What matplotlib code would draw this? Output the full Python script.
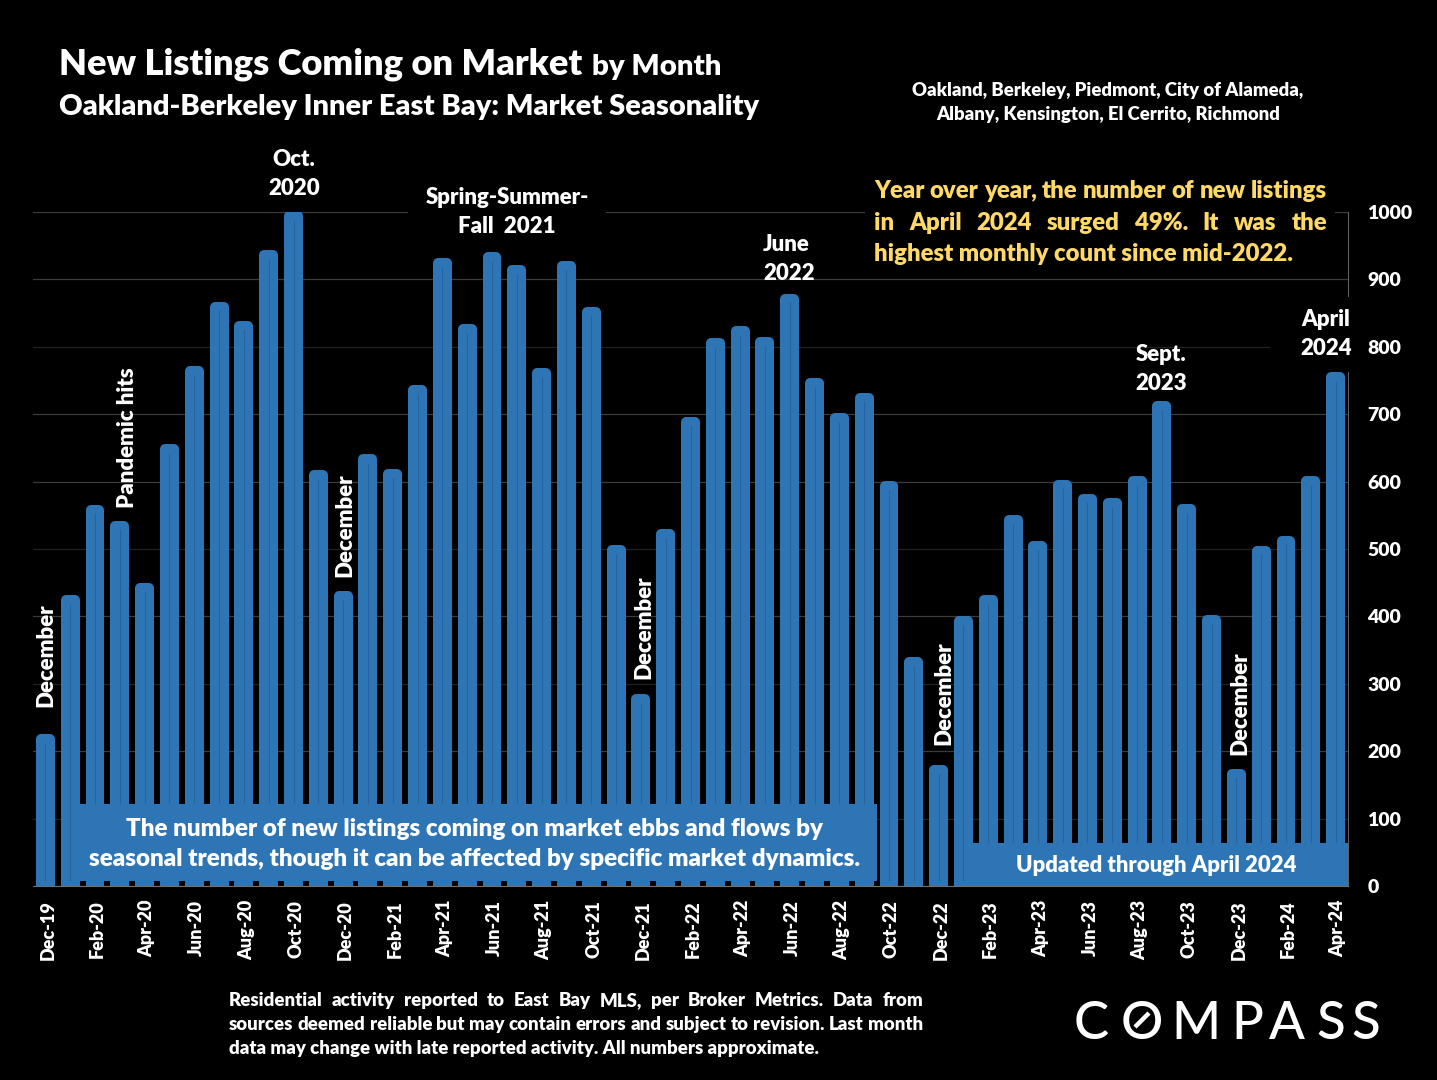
import matplotlib
matplotlib.use('Agg')
import matplotlib.pyplot as plt
from matplotlib.lines import Line2D
from matplotlib.patches import Rectangle
from matplotlib.transforms import ScaledTranslation

W, H = 1437, 1080

months = ['Dec-19', 'Jan-20', 'Feb-20', 'Mar-20', 'Apr-20', 'May-20', 'Jun-20', 'Jul-20', 'Aug-20', 'Sep-20',
          'Oct-20', 'Nov-20', 'Dec-20', 'Jan-21', 'Feb-21', 'Mar-21', 'Apr-21', 'May-21', 'Jun-21', 'Jul-21',
          'Aug-21', 'Sep-21', 'Oct-21', 'Nov-21', 'Dec-21', 'Jan-22', 'Feb-22', 'Mar-22', 'Apr-22', 'May-22',
          'Jun-22', 'Jul-22', 'Aug-22', 'Sep-22', 'Oct-22', 'Nov-22', 'Dec-22', 'Jan-23', 'Feb-23', 'Mar-23',
          'Apr-23', 'May-23', 'Jun-23', 'Jul-23', 'Aug-23', 'Sep-23', 'Oct-23', 'Nov-23', 'Dec-23', 'Jan-24',
          'Feb-24', 'Mar-24', 'Apr-24']
listings = [224, 430, 565, 541, 449, 655, 770, 866, 837, 943,
            1000, 616, 436, 640, 617, 743, 931, 833, 939, 920,
            767, 926, 858, 505, 284, 529, 695, 812, 830, 813,
            878, 753, 701, 731, 600, 339, 178, 399, 431, 549,
            511, 602, 581, 575, 607, 718, 566, 401, 172, 504,
            519, 607, 761]
y_ticks = [0, 100, 200, 300, 400, 500, 600, 700, 800, 900, 1000]
faint_grid = [100, 300, 500, 800]

BLUE = '#2E75B6'
WEIGHT = 'heavy'
plt.rcParams['font.family'] = ['Lato', 'DejaVu Sans']
plt.rcParams['font.weight'] = WEIGHT

fig = plt.figure(figsize=(W / 100, H / 100), dpi=100, facecolor='black')
ax = fig.add_axes([33 / W, 1 - 886 / H, 1315 / W, 674 / H], facecolor='black')
px = fig.transFigure


def fx(x):
    return x / W


def fy(y):
    return 1 - y / H


def label(x, y, s, size=16, color='white', ha='center', rotation=0):
    # y + 1.5: Lato sits a little higher than the reference font
    return fig.text(fx(x), fy(y + 1.5), s, fontsize=size, color=color, ha=ha, va='center',
                    rotation=rotation, zorder=10)


def justified(words, x0, x1, y, size, color='white'):
    # spread the words so the line fills x0..x1, like a justified text box
    r = fig.canvas.get_renderer()
    items = [label(x0, y, w, size, color, ha='left') for w in words]
    widths = [t.get_window_extent(r).width for t in items]
    gap = (x1 - x0 - sum(widths)) / (len(words) - 1)
    x = x0
    for t, w in zip(items, widths):
        t.set_x(fx(x))
        x += w + gap


def mask(x0, y0, x1, y1, color='black', zorder=1.5):
    fig_rect = Rectangle((fx(x0), fy(y1)), (x1 - x0) / W, (y1 - y0) / H, transform=px,
                         facecolor=color, edgecolor='none', zorder=zorder, clip_on=False)
    ax.add_patch(fig_rect)


# bars: thick round-joined outline, so pull the height in by half the outline
x = list(range(len(months)))
edge = 6.4
ax.bar(x, [v - edge for v in listings], width=0.36, color=BLUE, edgecolor=BLUE, linewidth=7.2,
       joinstyle='round', zorder=2)
ax.vlines(x, 8, [v - 12 for v in listings], color='#27649D', linewidth=0.8, zorder=2.1)

ax.set_xlim(-0.5, 52.5)
ax.set_ylim(0, 1000)
ax.set_xticks(x[::2])
ax.set_xticklabels(months[::2], rotation=90, fontsize=13, color='white')
ax.set_yticks(y_ticks)
ax.yaxis.tick_right()
ax.tick_params(axis='both', length=0, colors='white')
ax.tick_params(axis='x', pad=10)
ax.tick_params(axis='y', pad=14, labelsize=14)
# has to come after tick_params, which resets the label transforms
shift = ScaledTranslation(2.5 / 100, 0, fig.dpi_scale_trans)
for t in ax.get_xticklabels():
    t.set_transform(t.get_transform() + shift)
ax.grid(axis='y', color='#3C3C3C', linewidth=0.9, zorder=0.5)
ax.set_axisbelow(True)
for tick, line in zip(y_ticks, ax.get_ygridlines()):
    if tick in faint_grid:
        line.set_color('#222222')
for side in ['left', 'top']:
    ax.spines[side].set_visible(False)
ax.spines['bottom'].set_color('#707070')
ax.spines['right'].set_color('#606060')

# black boxes behind the annotations break the grid
mask(408, 180, 606, 240)
mask(865, 170, 1335, 270)
mask(1270, 297, 1353, 372, zorder=3)

# blue callouts
mask(71, 804, 877, 881, BLUE, zorder=4)
mask(964, 843, 1348, 886, BLUE, zorder=4)
label(475, 827, 'The number of new listings coming on market ebbs and flows by', 17.35)
label(475, 858, 'seasonal trends, though it can be affected by specific market dynamics.', 17.35)
label(1156, 864, 'Updated through April 2024', 15.9)

# titles
label(59, 63, 'New Listings Coming on Market', 26.1, ha='left')
label(592, 65, 'by Month', 21.2, ha='left')
label(59, 105, 'Oakland-Berkeley Inner East Bay: Market Seasonality', 20.9, ha='left')
label(1108, 89, 'Oakland, Berkeley, Piedmont, City of Alameda,', 13.3)
label(1108, 113, 'Albany, Kensington, El Cerrito, Richmond', 13.3)

# yellow note
YELLOW = '#FFD966'
justified('Year over year, the number of new listings'.split(), 874, 1327, 190, 17.2, YELLOW)
justified('in April 2024 surged 49%. It was the'.split(), 874, 1327, 221, 17.2, YELLOW)
label(874, 252, 'highest monthly count since mid-2022.', 17.2, YELLOW, ha='left')

# chart annotations
label(294, 158, 'Oct.')
label(294, 187, '2020')
label(507, 196, 'Spring-Summer-')
label(507, 225, 'Fall  2021')
label(786, 243, 'June')
label(789, 272, '2022')
label(1161, 353, 'Sept.')
label(1161, 382, '2023')
label(1326, 318, 'April')
label(1326, 347, '2024')
label(128, 436, 'Pandemic hits', rotation=90)
for dec_x, dec_y in [(46, 654), (345, 524), (644, 626), (944, 692), (1240, 702)]:
    label(dec_x, dec_y, 'December', rotation=90)

# footnote
justified('Residential activity reported to East Bay MLS, per Broker Metrics. Data from'.split(), 229, 923, 999, 13.4)
justified('sources deemed reliable but may contain errors and subject to revision. Last month'.split(), 229, 923, 1023, 13.4)
label(229, 1047, 'data may change with late reported activity. All numbers approximate.', 13.4, ha='left')

# logo
for ch, cx in zip('COMPASS', [1091, 1142, 1196, 1247, 1287, 1331, 1366]):
    fig.text(fx(cx), fy(1020), ch, fontsize=38, color='white', fontweight='medium',
             family='Lato', ha='center', va='center_baseline')
fig.add_artist(Line2D([fx(1135), fx(1149)], [fy(1027), fy(1013)], color='white', linewidth=3.2,
                      solid_capstyle='butt', transform=px))

fig.savefig('out.png', dpi=100, facecolor='black')
